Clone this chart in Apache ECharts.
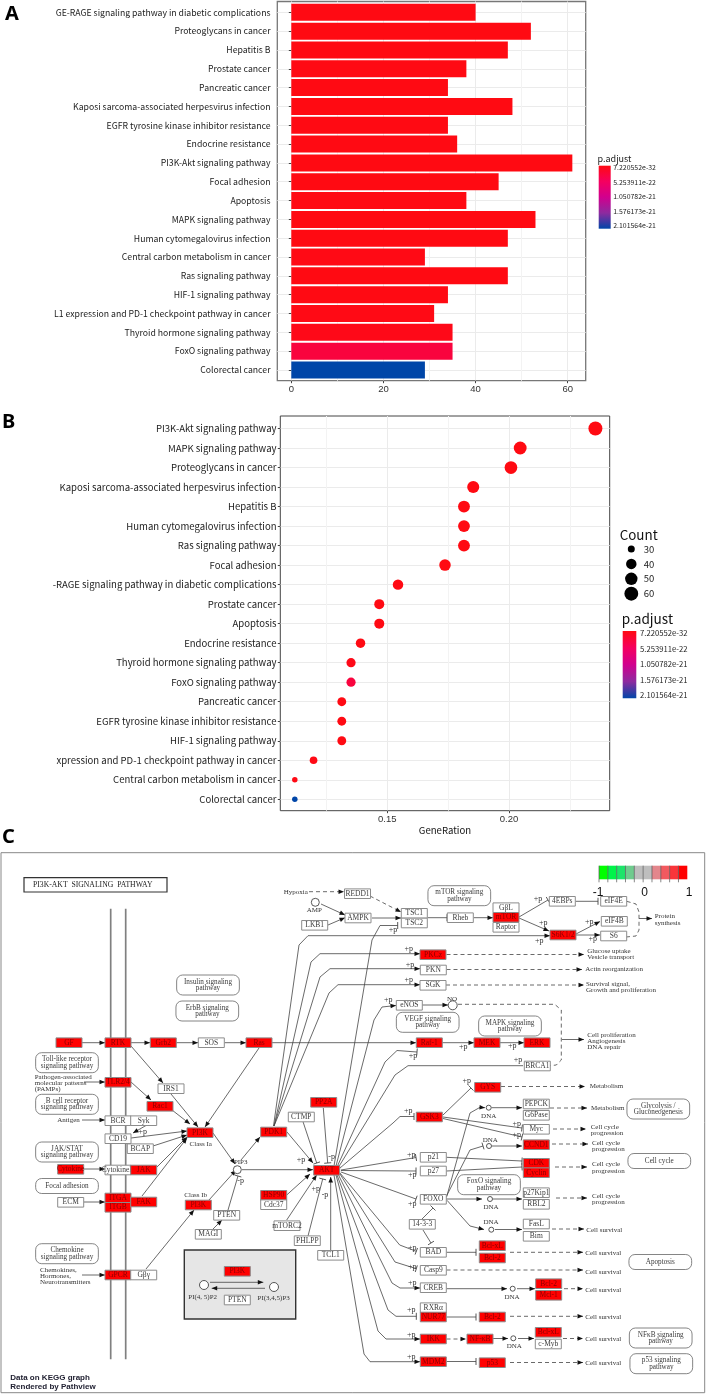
<!DOCTYPE html>
<html><head><meta charset="utf-8">
<style>html,body{margin:0;padding:0;background:#fff}#c{width:706px;height:1394px}</style>
<script src="https://cdn.jsdelivr.net/npm/echarts@6/dist/echarts.min.js"></script>
</head><body><div id="c"></div>
<script>
// ---- Panel A
const categoriesA = ["GE-RAGE signaling pathway in diabetic complications","Proteoglycans in cancer","Hepatitis B","Prostate cancer","Pancreatic cancer","Kaposi sarcoma-associated herpesvirus infection","EGFR tyrosine kinase inhibitor resistance","Endocrine resistance","PI3K-Akt signaling pathway","Focal adhesion","Apoptosis","MAPK signaling pathway","Human cytomegalovirus infection","Central carbon metabolism in cancer","Ras signaling pathway","HIF-1 signaling pathway","L1 expression and PD-1 checkpoint pathway in cancer","Thyroid hormone signaling pathway","FoxO signaling pathway","Colorectal cancer"];
const countsA = [40,52,47,38,34,48,34,36,61,45,38,53,47,29,47,34,31,35,35,29];
const padjA = [0.01,0,0,0.01,0.01,0,0.01,0.01,0,0,0.01,0,0,0.02,0,0.01,0.02,0.04,0.3,2.1];
// ---- Panel B
const categoriesB = ["PI3K-Akt signaling pathway","MAPK signaling pathway","Proteoglycans in cancer","Kaposi sarcoma-associated herpesvirus infection","Hepatitis B","Human cytomegalovirus infection","Ras signaling pathway","Focal adhesion","-RAGE signaling pathway in diabetic complications","Prostate cancer","Apoptosis","Endocrine resistance","Thyroid hormone signaling pathway","FoxO signaling pathway","Pancreatic cancer","EGFR tyrosine kinase inhibitor resistance","HIF-1 signaling pathway","xpression and PD-1 checkpoint pathway in cancer","Central carbon metabolism in cancer","Colorectal cancer"];
const ratioB = [0.2355,0.2046,0.2008,0.1853,0.1815,0.1815,0.1815,0.1737,0.1544,0.1467,0.1467,0.139,0.1351,0.1351,0.1313,0.1313,0.1313,0.1197,0.112,0.112];
const countsB = [61,53,52,48,47,47,47,45,40,38,38,36,35,35,34,34,34,31,29,29];
const padjB = [0,0,0,0,0,0,0,0,0.01,0.01,0.01,0.01,0.04,0.3,0.01,0.01,0.01,0.02,0.02,2.1];
const legendCounts = [30,40,50,60];
const padjTicks = [0,0.525,1.05,1.576,2.1];
const padjLabels = ["7.220552e-32","5.253911e-22","1.050782e-21","1.576173e-21","2.101564e-21"];
const padjPalette = ['#ff0a12','#f5005f','#d1008e','#8e2a9f','#0046a8'];
// ---- Panel C: KEGG graph (label, graph x, graph y, expressed)
const keggNodes = [["GF",69,1042.7,1],["RTK",118,1042.7,1],["Grb2",163.3,1042.7,1],["SOS",211.3,1042.7,0],["Ras",259,1042.7,1],["TLR2/4",118,1082.3,1],["IRS1",171,1088.7,0],["Rac1",160,1106.3,1],["PP2A",323.7,1102.3,1],["CTMP",301.3,1117,0],["BCR",118,1120.7,0],["Syk",143.7,1120.7,0],["LKB1",314.7,925.3,0],["REDD1",357.5,893.7,0],["AMPK",358,918,0],["TSC1",414.3,913.3,0],["TSC2",414.3,923,0],["Rheb",460.3,917.7,0],["G\u03b2L",506,907.7,0],["mTOR",506,917.3,1],["Raptor",506,927.3,0],["4EBPs",562.3,901.3,0],["eIF4E",613.7,901.3,0],["eIF4B",614.3,921.3,0],["S6K1/2",563,935,1],["S6",613.7,936,0],["PKCz",433,954.7,1],["PKN",433.3,970,0],["SGK",433,985.3,0],["eNOS",409.3,1005.3,0],["Raf-1",429.3,1042.7,1],["MEK",487,1042.7,1],["ERK",537,1042.7,1],["BRCA1",537.3,1066,0],["GYS",487.7,1087.3,1],["GSK3",429.3,1117,1],["PEPCK",536.3,1104,0],["G6Pase",536.3,1115.3,0],["PI3K",200,1132.7,1],["PDK1",273.7,1132,1],["CD19",118,1138.7,0],["BCAP",140.3,1148.7,0],["Cytokine",70.7,1169.3,1],["CytokineR",118,1170,0],["JAK",143.7,1170,1],["AKT",326.7,1170.3,1],["HSP90",273.7,1195.3,1],["Cdc37",273.7,1204.7,0],["ECM",70.7,1202.3,0],["ITGA",118,1198,1],["ITGB",118,1207.3,1],["FAK",143.7,1202,1],["PI3K",198.3,1205,1],["PTEN",226.7,1215.3,0],["MAGI",208.3,1234.3,0],["mTORC2",287,1225.7,0],["PHLPP",307.3,1240.7,0],["TCL1",330.7,1255.3,0],["GPCR",118,1275,1],["G\u03b2\u03b3",143.7,1275,0],["PI3K",237.3,1271.3,1],["PTEN",237.3,1300,0],["Myc",536.3,1129.3,0],["CCND1",536.3,1144.7,1],["CDK",536.3,1163.3,1],["Cyclin",536.3,1172.7,1],["p21",433.3,1157.3,0],["p27",433.3,1171,0],["FOXO",433.3,1199.3,0],["p27Kip1",536.3,1192.7,0],["RBL2",536.3,1204.3,0],["FasL",536.3,1224,0],["Bim",536.3,1236.3,0],["14-3-3",422.3,1224.3,0],["BAD",433.3,1252.3,0],["Bcl-xL",492.3,1245.7,1],["Bcl-2",492.3,1258,1],["Casp9",433.3,1270.3,0],["CREB",433.3,1287.7,0],["Bcl-2",548.7,1283.7,1],["Mcl-1",548.7,1295.3,1],["RXR\u03b1",433.3,1307.7,0],["NUR77",433.3,1317,1],["Bcl-2",492.3,1317,1],["IKK",433.3,1339,1],["NF-\u03baB",480,1339,1],["Bcl-xL",548.3,1332.3,1],["c-Myb",548.3,1344,0],["MDM2",433.3,1361.7,1],["p53",492.3,1362.7,1]];
const keggMaps = [["Insulin signaling\npathway",208,985,62.7,20],["ErbB signaling\npathway",207.3,1011,62.7,20],["Toll-like receptor\nsignaling pathway",67,1062.7,62.7,20],["B cell receptor\nsignaling pathway",67,1104.3,62.7,20],["JAK/STAT\nsignaling pathway",67,1152,62.7,20],["Focal adhesion",67,1186,62.7,15],["Chemokine\nsignaling pathway",67,1253.7,62.7,20],["mTOR signaling\npathway",459.3,895.7,62.7,20],["VEGF signaling\npathway",427.7,1022.3,62.7,20],["MAPK signaling\npathway",510,1026,62.7,20],["Glycolysis /\nGluconeogenesis",658.3,1109,62.7,20],["Cell cycle",659.3,1161,62.7,15],["FoxO signaling\npathway",489,1184.7,62.7,20],["Apoptosis",660.3,1262,62.7,15],["NF\u03baB signaling\npathway",660.7,1338,62.7,20],["p53 signaling\npathway",661.3,1363.7,62.7,20]];
const keggCompounds = [[315.3,902.3,4],[452.7,1005.3,4.5],[237.3,1169.7,4],[488.7,1107.7,2.5],[489,1146,2.5],[490,1199,2.5],[491.3,1229.7,2.5],[512.7,1288.7,2.5],[513.3,1338.3,2.5],[204,1285,4.5],[274,1287,4.5]];
// kind: a arrow, t inhibition, d dashed arrow, u dashed plain, n plain, m membrane
const keggEdges = [
["m",110.7,908.7,110.7,1359.3],["m",125.7,908.7,125.7,1359.3],
["a",82,1042.7,105,1042.7],["a",131,1042.7,150,1042.7],["a",176,1042.7,198,1042.7],["a",224.5,1042.7,246,1042.7],["a",272,1042.7,416,1042.7],["a",442,1042.7,474,1042.7],["a",500,1042.7,524,1042.7],
["a",131,1046,163,1083],["a",131,1082,151,1100],["a",84,1082,105,1082],["a",172,1110,190,1124],["a",171,1094,198,1127],["a",259,1048,205,1127],["a",82,1120,105,1120],["a",152,1122,133,1133],["a",131,1138,187,1131],["a",153,1146,187,1135],["a",157,1167,187,1137],["a",142,1196,187,1138],["a",84,1169,105,1169],["a",84,1202,105,1202],["a",82,1275,105,1275],["a",146,1269,194,1210],["a",213,1229,222,1220],["t",228,1210,238,1176],["a",209,1200,236,1170],["a",213,1133,235,1164],["a",241,1160,260,1137],["a",242,1169.7,313,1169.7],["a",287,1132,313,1163],["t",303,1121.7,316.7,1163],["t",323.3,1108,327.7,1163],["a",286.7,1195,310,1174],["a",286.7,1220,316.7,1175],["t",308,1236,322.7,1179],["a",330.7,1250,330.7,1177],
["a",273.5,1126,299,945,308,935.7,550,935.7],["a",274,1126,311,962,320,953.7,420,953.7],["a",274,1126,320,977,330,968.7,420,968.7],["a",274,1126,329,993,338,984.7,420,984.7],
["t",334,1166,372,940,380,925.5,397.7,925.5],["a",336,1166,374,1020,382,1007,396,1005.5],["t",337,1167,385,1062,397,1050.5,417,1052],["n",338,1168,395,1075,408,1065.7,523,1065.7],["t",340,1168,393,1123,400,1116.5,414,1116.5],["t",341,1170,416,1157.5],["t",341,1170.5,416,1171],["t",341,1172,416,1199],
["t",340,1173,399.7,1245,416.3,1251.3],["t",340,1174,395,1262,416.3,1268.7],["a",338,1174,392,1283,400,1288,420,1288],["t",337,1175,388,1310,396,1316.3,416.3,1316.3],["a",336,1175,378,1331,386,1339,420,1339],["a",334,1175,364,1354,370,1361.7,420,1361.7],
["t",443,1117,522,1128],["t",443,1118.5,522,1137],["t",443,1115,471,1088],["d",501,1086.5,585,1086.5],["d",550,1108,587,1108],["a",446.7,1196.7,470,1113,480,1107.3,485,1107.7],["a",491.5,1107.7,522,1107.7],["t",446,1197,470,1150,483,1146],["a",492,1146,522,1146],["a",446,1199,482,1199],["a",493,1199,522,1199],["a",447,1200.3,470,1226,484,1229.5],["a",495,1229.5,522,1229.5],["t",446.5,1157.3,522,1161],["t",446.5,1171,522,1167],["d",555,1167,587,1167],["d",556,1198,587,1198],["d",552,1229,584,1229],["d",553,1129,586,1129],["d",552,1144,588,1144],
["t",446.5,1252.3,476,1252.3],["d",510,1252.3,583,1252.3],["d",446.5,1270,583,1270],["a",446.5,1288.7,507,1288.7],["a",517,1288.7,535,1288.7],["d",564,1288.7,583,1288.7],["t",446.5,1317,476,1317],["d",510,1316.3,583,1316.3],["d",446.5,1339,466,1339],["a",493,1338.5,508,1338.5],["a",518,1338.5,534,1338.5],["d",563,1338.5,583,1338.5],["t",446.5,1361.5,476,1361.5],["d",510,1362.5,583,1362.5],["t",422,1219,433,1208],["t",423,1230,431,1243],
["d",309,891.7,344,891.7],["d",370,896,401,912],["a",321,904,345,915],["a",328,925,345,917.7],["a",372,918,401,918],["t",428,917.7,447,917.7],["a",473.7,917.7,493,917.7],["t",519,917,548,900],["a",519,918,549,931],["t",575.5,901.3,598,901.3],["a",576,934,600,921.5],["a",576,935,600,935],
["u",626.7,901.3,636,904,639,912,639,930,636,936,626,937],["a",639,918.5,652,918.5],["a",422,1005,448,1005],["u",458,1004.3,554.7,1004.3,561.3,1010,561.3,1060,556.3,1065,550,1065.7],["a",562,1039.5,584,1039.5],["d",446.5,954.5,584,954.5],["d",446.5,969.5,582,969.5],["d",446,985,584,985],
["a",210,1282.3,263.3,1282.3],["a",265,1288.3,211.7,1288.3]];
const keggTexts = [["Hypoxia",295.7,891.7,"center"],["AMP",314.3,910.3,"center"],["Antigen",68.5,1120,"center"],["Pathogen-associated",34.7,1076.7,"left"],["molecular patterns",34.7,1083,"left"],["(PAMPs)",34.7,1089,"left"],["Class Ia",200.7,1143.7,"center"],["Class Ib",195.7,1194.7,"center"],["Chemokines,",40,1269.7,"left"],["Hormones,",40,1276,"left"],["Neurotransmitters",40,1282.3,"left"],["PIP3",240.7,1162.3,"center"],["PI(4, 5)P2",202.7,1296.7,"center"],["PI(3,4,5)P3",273.7,1297.7,"center"],
["NO",452,999,"center"],["DNA",488.7,1115.7,"center"],["DNA",490.3,1140.3,"center"],["DNA",491,1206.7,"center"],["DNA",491,1222.3,"center"],["DNA",512,1296.7,"center"],["DNA",514.3,1346,"center"],
["Protein",654.7,916,"left"],["synthesis",654.7,922.7,"left"],["Glucose uptake",587.3,951.3,"left"],["Vesicle transport",587.3,957.3,"left"],["Actin reorganization",585.3,969.3,"left"],["Survival signal,",586,983.7,"left"],["Growth and proliferation",586,990,"left"],["Cell proliferation",587.3,1035,"left"],["Angiogenesis",587.3,1041.3,"left"],["DNA repair",587.3,1047.3,"left"],["Metabolism",589.7,1085.7,"left"],["Metabolism",591,1108.3,"left"],
["Cell cycle",590.7,1127,"left"],["progression",590.7,1133,"left"],["Cell cycle",592,1143,"left"],["progression",592,1149.3,"left"],["Cell cycle",592,1164.3,"left"],["progression",592,1170.7,"left"],["Cell cycle",592,1196,"left"],["progression",592,1202.3,"left"],["Cell survival",586.3,1230.3,"left"],["Cell survival",585.3,1252.7,"left"],["Cell survival",585.3,1271.7,"left"],["Cell survival",585.3,1290,"left"],["Cell survival",585.3,1317.3,"left"],["Cell survival",585.3,1339.3,"left"],["Cell survival",585.3,1363.3,"left"]];
const keggMods = [["+p",142.7,1132],["-p",240.7,1181],["+p",301,1159.7],["-p",331.7,1157.3],["+p",315.7,1188.7],["-p",325,1195.3],["+p",538,898.7],["+p",543.3,923],["+p",539.3,940.7],["+p",589.3,921.7],["+p",592.7,939.3],["+p",393,930.3],["+p",408.7,948.7],["+p",410,965.3],["+p",408.7,980.3],["+p",388.3,1000],["+p",463.3,1047.3],["+p",512.3,1046],["+p",413,1055.7],["+p",518,1060],["+p",466.7,1081.3],["+p",408.3,1111],["+p",411.3,1155.3],["+p",412.3,1175.3],["+p",412.3,1204.3],["+p",412.3,1248],["+p",412.3,1266.7],["+p",412.3,1283.3],["+p",411.3,1310.3],["+p",411.3,1335.3],["+p",411.3,1356.7],["+p",516.7,1123.7],["+p",516.7,1134.7]];
const keyColors = ['#00ff00','#00f44a','#1de46a','#6fcb8e','#bebebe','#bebebe','#e3868c','#f2595f','#f9353a','#ff0000'];
const keyLabels = [["-1",598,893],["0",644.7,893],["1",689,893]];

const SANS='"Noto Sans CJK SC","Noto Sans",sans-serif', SERIF='"Liberation Serif",serif', ARIAL='"Liberation Sans",Arial,sans-serif';
const xA=[-3.04,63.9], xB=[0.10604,0.24137];
const gridCol='#ebebeb', minorCol='#f3f3f3';
const diam=n=>5.5+8.5*Math.sqrt(Math.max(n-29,0)/32);

function frameX(r,vals,digits,extra){
  return Object.assign({type:'value',gridIndex:extra.g,min:r[0],max:r[1],position:'bottom',
    axisLine:{show:false},axisTick:{show:true,length:2.5,lineStyle:{color:'#444'},customValues:vals},
    axisLabel:{show:true,customValues:vals,fontFamily:ARIAL,fontSize:9.5,color:'#333',margin:extra.m,
      formatter:v=>digits?v.toFixed(digits):String(Math.round(v))},
    splitLine:{show:true,lineStyle:{color:gridCol,width:1}}},extra.o||{});
}
function minorX(r,vals,g){
  return {type:'value',gridIndex:g,min:r[0],max:r[1],position:'top',axisLine:{show:false},
    axisTick:{show:false,customValues:vals},axisLabel:{show:false,customValues:vals},
    splitLine:{show:true,lineStyle:{color:minorCol,width:1}}};
}
function hiddenX(r,g){return {type:'value',gridIndex:g,min:r[0],max:r[1],show:false};}
function hiddenY(g){return {type:'value',gridIndex:g,min:0,max:1,show:false};}
function catY(cats,g,fs,m,w){
  return {type:'category',gridIndex:g,data:cats,inverse:true,boundaryGap:false,
    axisLine:{show:false},axisTick:{show:true,length:2.5,lineStyle:{color:'#444'}},
    axisLabel:{interval:0,fontFamily:SANS,fontSize:fs,color:'#1c1c1c',margin:m},
    splitLine:{show:true,lineStyle:{color:gridCol,width:w}}};
}
function cbarY(g,fs,m){
  return {type:'value',gridIndex:g,inverse:true,position:'right',min:-0.0724,max:2.2086,
    axisLine:{show:false},
    axisTick:{show:true,inside:true,length:2.5,lineStyle:{color:'#fff',opacity:.8},customValues:padjTicks},
    axisLabel:{show:true,customValues:padjTicks,margin:m,fontFamily:SANS,fontSize:fs,color:'#222',
      formatter:v=>padjLabels[padjTicks.indexOf(v)]},
    splitLine:{show:false}};
}
function cbarItem(params,api){
  const c=params.coordSys;
  return {type:'rect',shape:{x:c.x,y:c.y,width:c.width,height:c.height},
    style:{fill:new echarts.graphic.LinearGradient(0,0,0,1,padjPalette.map((col,i)=>({offset:i/4,color:col})))}};
}
const seg=(p)=>{const a=[];for(let i=0;i<p.length;i+=2)a.push([p[i],p[i+1]]);return a;};
function edgeItem(params,api){
  const e=keggEdges[params.dataIndex],k=e[0];
  const pts=seg(e.slice(1)).map(q=>api.coord(q));
  const dash=(k==='d'||k==='u')?[4,3]:null;
  const col=k==='m'?'#808080':'#444';
  const w=k==='m'?1.7:0.8;
  const kids=[{type:'polyline',shape:{points:pts},style:{stroke:col,lineWidth:w,fill:null,lineDash:dash}}];
  const n=pts.length,t=pts[n-1],f=pts[n-2];
  const dx=t[0]-f[0],dy=t[1]-f[1],L=Math.hypot(dx,dy)||1,ux=dx/L,uy=dy/L;
  if(k==='a'||k==='d'){
    kids.push({type:'polygon',shape:{points:[t,[t[0]-ux*5.5-uy*2.3,t[1]-uy*5.5+ux*2.3],[t[0]-ux*5.5+uy*2.3,t[1]-uy*5.5-ux*2.3]]},style:{fill:'#111'}});
  }
  if(k==='t'){
    kids.push({type:'line',shape:{x1:t[0]-uy*3.5,y1:t[1]+ux*3.5,x2:t[0]+uy*3.5,y2:t[1]-ux*3.5},style:{stroke:'#444',lineWidth:0.9}});
  }
  return {type:'group',children:kids};
}
function nodeItem(params,api){
  const d=keggNodes[params.dataIndex],c=api.coord([d[1],d[2]]),w=26,h=9.6,red=d[3];
  return {type:'group',children:[
    {type:'rect',shape:{x:c[0]-w/2,y:c[1]-h/2,width:w,height:h},style:{fill:red?'#f00':'#fff',stroke:'#8c8c8c',lineWidth:1}},
    {type:'text',style:{text:d[0],x:c[0],y:c[1],align:'center',verticalAlign:'middle',font:'7.5px '+SERIF,fill:red?'#8a0000':'#3a3a3a'}}]};
}
function mapItem(params,api){
  const d=keggMaps[params.dataIndex],c=api.coord([d[1],d[2]]),w=d[3],h=d[4];
  return {type:'group',children:[
    {type:'rect',shape:{x:c[0]-w/2,y:c[1]-h/2,width:w,height:h,r:6},style:{fill:'#fff',stroke:'#666',lineWidth:0.8}},
    {type:'text',style:{text:d[0],x:c[0],y:c[1],align:'center',verticalAlign:'middle',lineHeight:6.6,font:'7.2px '+SERIF,fill:'#3a3a3a'}}]};
}
function circleItem(params,api){
  const d=keggCompounds[params.dataIndex],c=api.coord([d[0],d[1]]);
  return {type:'circle',shape:{cx:c[0],cy:c[1],r:d[2]},style:{fill:'#fff',stroke:'#444',lineWidth:0.9}};
}
function textItem(params,api){
  const d=keggTexts[params.dataIndex],c=api.coord([d[1],d[2]]);
  return {type:'text',style:{text:d[0],x:c[0],y:c[1],align:d[3],verticalAlign:'middle',font:'7px '+SERIF,fill:'#333'}};
}
function modItem(params,api){
  const d=keggMods[params.dataIndex],c=api.coord([d[1],d[2]]);
  return {type:'text',style:{text:d[0],x:c[0],y:c[1],align:'center',verticalAlign:'middle',font:'8px '+SERIF,fill:'#333'}};
}
function idx(a){return a.map((_,i)=>[i]);}
function customSeries(data,render,z){
  return {type:'custom',xAxisIndex:7,yAxisIndex:7,data:idx(data),renderItem:render,silent:true,z:z,clip:false};
}
function keyItem(params,api){
  const i=params.dataIndex,a=api.coord([599+i*8.83,865.7]),b=api.coord([599+(i+1)*8.83,879.3]);
  const t=api.coord([599+i*8.83,882.3]);
  return {type:'group',children:[
    {type:'rect',shape:{x:a[0],y:a[1],width:b[0]-a[0],height:b[1]-a[1]},style:{fill:keyColors[i]}},
    {type:'line',shape:{x1:a[0],y1:a[1],x2:a[0],y2:t[1]},style:{stroke:'#555',lineWidth:0.7}}]};
}
const ttl=(text,left,top,font,size,weight,color)=>({text,left,top,padding:0,textStyle:{fontFamily:font,fontSize:size,fontWeight:weight,color,lineHeight:size}});
const LETTER='"Noto Sans",sans-serif';
const chart=echarts.init(document.getElementById('c'),null,{renderer:'canvas'});
chart.setOption({
  animation:false,backgroundColor:'#fff',
  title:[
    ttl('A',5,4,LETTER,20,'bold','#000'),
    ttl('B',2,412,LETTER,20,'bold','#000'),
    ttl('C',2,827,LETTER,20,'bold','#000'),
    ttl('p.adjust',597.5,154.5,SANS,9,'normal','#222'),
    ttl('Count',619.7,528,SANS,13.4,'normal','#111'),
    ttl('p.adjust',621.7,612,SANS,13.6,'normal','#111'),
    ttl('PI3K-AKT  SIGNALING  PATHWAY',33,881,SERIF,7.7,'normal','#222'),
    ttl('Data on KEGG graph',10.3,1374,ARIAL,8,'bold','#223'),
    ttl('Rendered by Pathview',10.3,1382.3,ARIAL,8,'bold','#223')
  ],
  visualMap:{type:'continuous',show:false,seriesIndex:[0,1],dimension:2,min:0,max:2.1,inRange:{color:padjPalette}},
  grid:[
    {left:277.3,top:1.5,width:308.4,height:379.2,show:true,borderColor:'#777',borderWidth:1.3,backgroundColor:'transparent'},
    {left:277.3,top:12.3,width:308.4,height:357.7},
    {left:280.3,top:416,width:329.4,height:394.7,show:true,borderColor:'#444',borderWidth:1,backgroundColor:'transparent'},
    {left:280.3,top:428.5,width:329.4,height:370.8},
    {left:620,top:549,width:11.3,height:44.7},
    {left:598.7,top:165.7,width:12,height:63},
    {left:622.7,top:631,width:13.6,height:67.3},
    {left:0,top:0,width:706,height:1394}
  ],
  xAxis:[
    frameX(xA,[0,20,40,60],0,{g:0,m:4}),
    hiddenX(xA,1),
    frameX(xB,[0.15,0.2],2,{g:2,m:4,o:{name:'GeneRation',nameLocation:'middle',nameGap:13,nameTextStyle:{fontFamily:SANS,fontSize:9.6,color:'#111'}}}),
    hiddenX(xB,3),
    {type:'value',gridIndex:4,min:0,max:1,show:false},
    {type:'value',gridIndex:5,min:0,max:1,show:false},
    {type:'value',gridIndex:6,min:0,max:1,show:false},
    {type:'value',gridIndex:7,min:0,max:706,show:false},
    minorX(xA,[10,30,50],0),
    minorX(xB,[0.125,0.175,0.225],2)
  ],
  yAxis:[
    hiddenY(0),
    catY(categoriesA,1,8.7,6.8,1),
    hiddenY(2),
    catY(categoriesB,3,9.55,3.8,1.2),
    {type:'category',gridIndex:4,data:legendCounts.map(String),inverse:true,boundaryGap:false,position:'right',
      axisLine:{show:false},axisTick:{show:false},axisLabel:{interval:0,margin:12.5,fontFamily:SANS,fontSize:9.5,color:'#222'}},
    cbarY(5,6.9,2.6),
    cbarY(6,7.7,3.7),
    {type:'value',gridIndex:7,min:0,max:1394,inverse:true,show:false}
  ],
  series:[
    {type:'bar',xAxisIndex:1,yAxisIndex:1,barWidth:17,clip:false,z:3,encode:{x:0,y:1},silent:true,
      data:countsA.map((v,i)=>[v,i,padjA[i]])},
    {type:'scatter',xAxisIndex:3,yAxisIndex:3,z:3,clip:false,encode:{x:0,y:1},silent:true,itemStyle:{opacity:1},
      symbolSize:v=>diam(v[3]),data:ratioB.map((v,i)=>[v,i,padjB[i],countsB[i]])},
    {type:'scatter',xAxisIndex:4,yAxisIndex:4,z:3,clip:false,silent:true,encode:{x:0,y:1},
      symbolSize:v=>diam(legendCounts[v[1]]),itemStyle:{color:'#000',opacity:1},data:legendCounts.map((c,i)=>[1,i])},
    {type:'custom',xAxisIndex:5,yAxisIndex:5,data:[[0]],renderItem:cbarItem,silent:true,z:1,clip:false},
    {type:'custom',xAxisIndex:6,yAxisIndex:6,data:[[0]],renderItem:cbarItem,silent:true,z:1,clip:false},
    customSeries([0],(p,api)=>{
      const a=api.coord([1,852.7]),b=api.coord([704.7,1392.7]),c=api.coord([24,877.7]),d=api.coord([167,892]),e=api.coord([184.3,1250]),f=api.coord([295.7,1319]);
      return {type:'group',children:[
        {type:'rect',shape:{x:a[0],y:a[1],width:b[0]-a[0],height:b[1]-a[1]},style:{fill:'#fff',stroke:'#888',lineWidth:1}},
        {type:'rect',shape:{x:c[0],y:c[1],width:d[0]-c[0],height:d[1]-c[1]},style:{fill:'#fff',stroke:'#333',lineWidth:1.2}},
        {type:'rect',shape:{x:e[0],y:e[1],width:f[0]-e[0],height:f[1]-e[1]},style:{fill:'#e6e6e6',stroke:'#333',lineWidth:1.4}}]};
    },4),
    customSeries(keggEdges,edgeItem,5),
    customSeries(keggMaps,mapItem,6),
    customSeries(keggCompounds,circleItem,6),
    customSeries(keggNodes,nodeItem,7),
    customSeries(keggTexts,textItem,8),
    customSeries(keggMods,modItem,8),
    customSeries(keyColors,keyItem,6),
    customSeries(keyLabels,(p,api)=>{const d=keyLabels[p.dataIndex],c=api.coord([d[1],d[2]]);
      return {type:'text',style:{text:d[0],x:c[0],y:c[1],align:'center',verticalAlign:'middle',font:'12px '+ARIAL,fill:'#111'}};},8)
  ]
});
</script></body></html>
